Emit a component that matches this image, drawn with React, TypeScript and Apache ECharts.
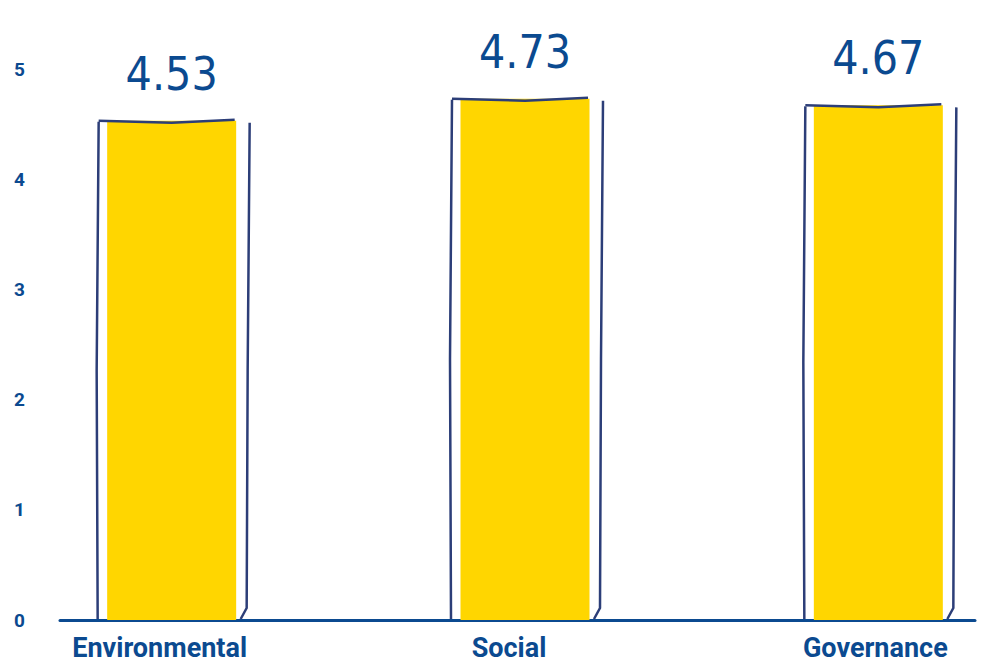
import React, { useEffect, useRef } from "react";
import * as echarts from "echarts";

const categories = ["Environmental", "Social", "Governance"];
const scores = [4.53, 4.73, 4.67];
const yTicks = [0, 1, 2, 3, 4, 5];

const BLUE = "#0B4A90";
const OUTLINE = "#2C3E78";
const YELLOW = "#FFD600";
const LABEL_PAD_RIGHT = [24, 32, 6];

export default function App() {
  const ref = useRef<HTMLDivElement>(null);
  useEffect(() => {
    if (!ref.current) return;
    const chart = echarts.init(ref.current, undefined, { renderer: "svg" });
    const option: any = {
      animation: false,
      backgroundColor: "#ffffff",
      grid: [
        { left: 0, right: 0, top: 69, bottom: 42 },
        { left: 65, right: 80, top: 69, bottom: 42 },
      ],
      xAxis: [
        {
          type: "category",
          gridIndex: 0,
          data: categories.map((c, i) => ({
            value: c,
            textStyle: { padding: [0, LABEL_PAD_RIGHT[i], 0, 0] },
          })),
          axisLine: { show: false },
          axisTick: { show: false },
          axisLabel: {
            color: BLUE,
            fontFamily: "Roboto",
            fontWeight: "bold",
            fontSize: 27,
            margin: 14,
          },
        },
        {
          type: "category",
          gridIndex: 1,
          data: categories,
          axisLine: { show: true, lineStyle: { color: BLUE, width: 3 } },
          axisTick: { show: false },
          axisLabel: { show: false },
        },
      ],
      yAxis: [
        {
          type: "value",
          gridIndex: 0,
          min: 0,
          max: 5,
          interval: 1,
          show: false,
        },
        {
          type: "value",
          gridIndex: 1,
          min: 0,
          max: 5,
          interval: 1,
          axisLine: { show: false },
          axisTick: { show: false },
          splitLine: { show: false },
          axisLabel: {
            color: BLUE,
            fontFamily: "Roboto",
            fontWeight: "bold",
            fontSize: 19,
            margin: 35,
            formatter: (v: number) => String(yTicks[Math.round(v)] ?? v),
          },
        },
      ],
      series: [
        {
          type: "bar",
          xAxisIndex: 0,
          yAxisIndex: 0,
          data: scores,
          barWidth: 129,
          itemStyle: { color: YELLOW },
          label: {
            show: true,
            position: "top",
            distance: 24,
            color: BLUE,
            fontFamily: "'DejaVu Sans Condensed', sans-serif",
            fontSize: 46,
            formatter: (p: any) => p.value.toFixed(2),
          },
          z: 2,
        },
        {
          type: "custom",
          xAxisIndex: 0,
          yAxisIndex: 0,
          data: scores.map((v, i) => [i, v]),
          z: 3,
          renderItem: (params: any, api: any) => {
            const top = api.coord([api.value(0), api.value(1)]);
            const base = api.coord([api.value(0), 0]);
            const cx = top[0];
            const ty = top[1];
            const by = base[1];
            const L = cx - 73;
            const R = cx + 78;
            const style = {
              stroke: OUTLINE,
              lineWidth: 2.5,
              fill: "none",
            };
            return {
              type: "group",
              children: [
                {
                  type: "polyline",
                  shape: {
                    points: [
                      [L - 1, by - 1],
                      [L - 2, (ty + by) / 2],
                      [L, ty + 1],
                    ],
                  },
                  style,
                },
                {
                  type: "polyline",
                  shape: {
                    points: [
                      [L, ty],
                      [cx, ty + 2],
                      [cx + 63, ty - 1],
                    ],
                  },
                  style,
                },
                {
                  type: "polyline",
                  shape: {
                    points: [
                      [R, ty + 2],
                      [R - 2, (ty + by) / 2],
                      [R - 3, by - 12],
                      [R - 9, by - 1],
                    ],
                  },
                  style,
                },
              ],
            };
          },
        },
      ],
    };
    chart.setOption(option);
    return () => chart.dispose();
  }, []);
  return (
    <div
      style={{
        position: "fixed",
        left: 0,
        top: 0,
        width: 986,
        height: 662,
        overflow: "hidden",
        background: "#ffffff",
      }}
    >
      <div
        ref={ref}
        style={{ position: "absolute", left: -5, top: 0, width: 1060, height: 662 }}
      />
    </div>
  );
}
